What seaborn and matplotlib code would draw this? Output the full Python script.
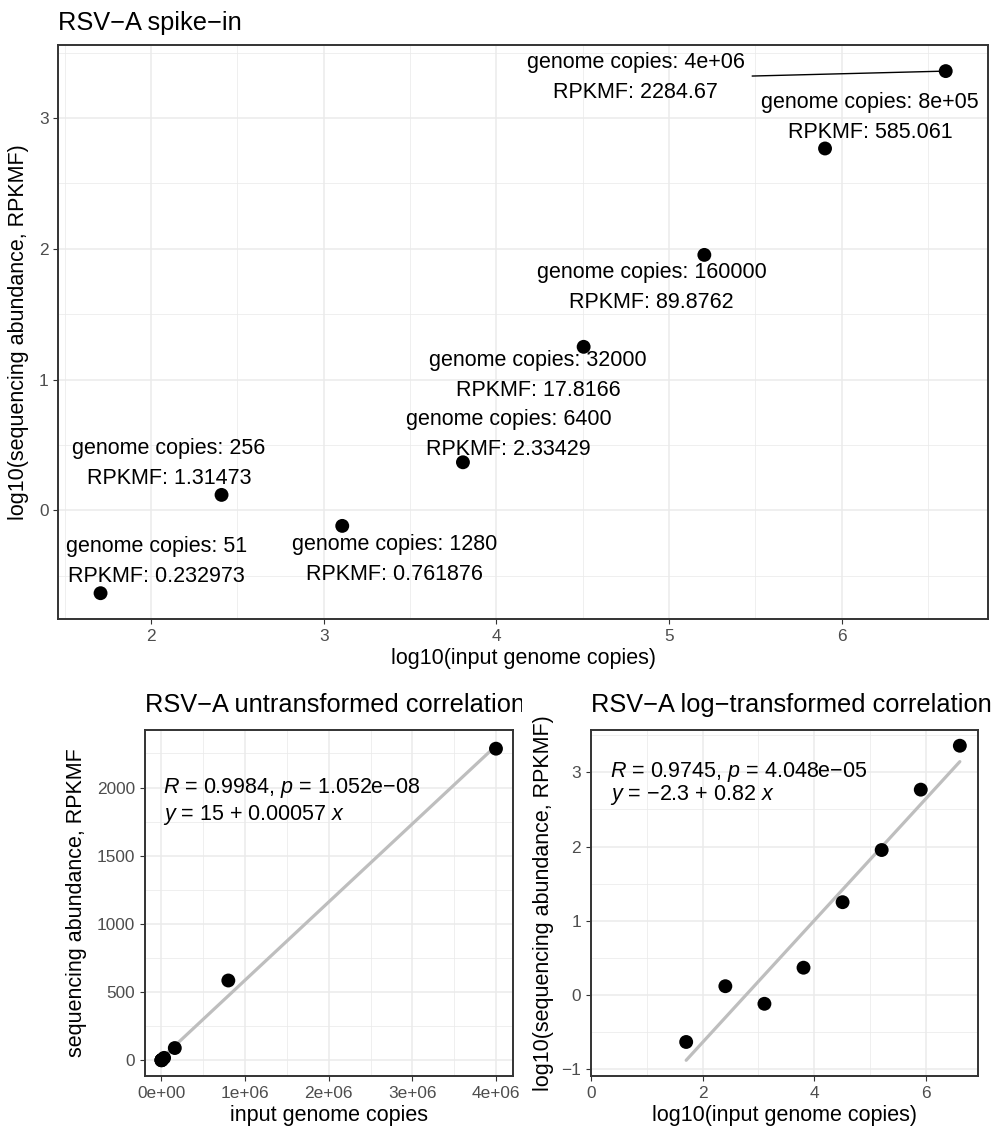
import numpy as np
import pandas as pd
import matplotlib
matplotlib.use("Agg")
import matplotlib.pyplot as plt
import seaborn as sns
from matplotlib.ticker import FixedLocator, FuncFormatter
from matplotlib.transforms import Bbox, TransformedBbox, blended_transform_factory

# data
genome_copies = [51, 256, 1280, 6400, 32000, 160000, 800000, 4000000]
rpkmf = [0.232973, 1.31473, 0.761876, 2.33429, 17.8166, 89.8762, 585.061, 2284.67]
copy_labels = ["51", "256", "1280", "6400", "32000", "160000", "8e+05", "4e+06"]
rpkmf_labels = ["0.232973", "1.31473", "0.761876", "2.33429", "17.8166",
                "89.8762", "585.061", "2284.67"]

# repel offsets of each label block (log10 units)
label_dx = [0.324, -0.304, 0.303, 0.263, -0.265, -0.306, 0.262, -1.795]
label_dy = [0.242, 0.238, -0.254, 0.212, -0.219, -0.248, 0.237, -0.047]

lin_stats = ["$R$ = 0.9984, $p$ = 1.052e\u221208", "$y$ = 15 + 0.00057 $x$"]
log_stats = ["$R$ = 0.9745, $p$ = 4.048e\u221205", "$y$ = \u22122.3 + 0.82 $x$"]

df = pd.DataFrame({"copies": genome_copies, "rpkmf": rpkmf})
df["log_copies"] = np.log10(df["copies"])
df["log_rpkmf"] = np.log10(df["rpkmf"])

sns.set_theme(style="whitegrid")
plt.rcParams["font.family"] = ["Liberation Sans", "DejaVu Sans"]
plt.rcParams["mathtext.fontset"] = "custom"
plt.rcParams["mathtext.rm"] = "Liberation Sans"
plt.rcParams["mathtext.it"] = "Liberation Sans:italic"
plt.rcParams["text.color"] = "black"
plt.rcParams["axes.labelcolor"] = "black"

BASE = 15.5
TICK = 12.4
TITLE = 18.3
GRID = "#EBEBEB"
BORDER = "#333333"


def style_axes(ax, xmaj, xmin, ymaj, ymin):
    ax.set_facecolor("white")
    for s in ax.spines.values():
        s.set_color(BORDER)
        s.set_linewidth(1.4)
        s.set_visible(True)
    ax.xaxis.set_major_locator(FixedLocator(xmaj))
    ax.xaxis.set_minor_locator(FixedLocator(xmin))
    ax.yaxis.set_major_locator(FixedLocator(ymaj))
    ax.yaxis.set_minor_locator(FixedLocator(ymin))
    ax.grid(which="major", color=GRID, linewidth=1.1)
    ax.grid(which="minor", color=GRID, linewidth=0.55)
    ax.set_axisbelow(True)
    ax.tick_params(which="major", length=3.9, width=0.8, color=BORDER,
                   labelcolor="#4D4D4D", labelsize=TICK, pad=3.0,
                   bottom=True, left=True)
    ax.tick_params(which="minor", length=0, bottom=False, left=False)


fig = plt.figure(figsize=(9.96, 11.3), dpi=100)

# ---- top: labelled spike-in scatter ----
ax1 = fig.add_axes([0.05853, 0.45195, 0.93343, 0.50823])
sns.scatterplot(data=df, x="log_copies", y="log_rpkmf", ax=ax1, s=100,
                color="black", edgecolor="none", linewidth=0, zorder=3)
xr = df["log_copies"].max() - df["log_copies"].min()
yr = df["log_rpkmf"].max() - df["log_rpkmf"].min()
ax1.set_xlim(df["log_copies"].min() - 0.05 * xr, df["log_copies"].max() + 0.05 * xr)
ax1.set_ylim(df["log_rpkmf"].min() - 0.05 * yr, df["log_rpkmf"].max() + 0.05 * yr)
style_axes(ax1, [2, 3, 4, 5, 6], [1.5, 2.5, 3.5, 4.5, 5.5, 6.5],
           [0, 1, 2, 3], [-0.5, 0.5, 1.5, 2.5, 3.5])

for i, row in df.iterrows():
    txt = f"genome copies: {copy_labels[i]}\nRPKMF: {rpkmf_labels[i]}"
    px, py = row["log_copies"], row["log_rpkmf"]
    arrow = None
    if abs(label_dx[i]) > 1:
        # long repel distance -> ggrepel draws a segment
        arrow = dict(arrowstyle="-", color="black", lw=1.0,
                     relpos=(1.0, 0.52), shrinkA=3, shrinkB=0)
    ax1.annotate(txt, xy=(px, py), xytext=(px + label_dx[i], py + label_dy[i]),
                 ha="center", va="center", multialignment="center",
                 fontsize=BASE, linespacing=1.55, color="black",
                 arrowprops=arrow, zorder=2)

ax1.set_xlabel("log10(input genome copies)", fontsize=BASE, labelpad=3)
ax1.set_ylabel("log10(sequencing abundance, RPKMF)", fontsize=BASE, labelpad=7)
ax1.set_title("RSV\u2212A spike\u2212in", loc="left", fontsize=TITLE, pad=11)

# ---- bottom left: untransformed correlation ----
ax2 = fig.add_axes([0.14528, 0.04779, 0.36948, 0.30619])
sns.regplot(data=df, x="copies", y="rpkmf", ax=ax2, scatter=False, ci=None,
            color="#BEBEBE", line_kws={"lw": 2.3})
sns.scatterplot(data=df, x="copies", y="rpkmf", ax=ax2, s=100,
                color="black", edgecolor="none", linewidth=0, zorder=3)
slope, icpt = np.polyfit(df["copies"], df["rpkmf"], 1)
fit_ends = icpt + slope * np.array([df["copies"].min(), df["copies"].max()])
lo = min(df["rpkmf"].min(), fit_ends.min())
hi = max(df["rpkmf"].max(), fit_ends.max())
xr = df["copies"].max() - df["copies"].min()
ax2.set_xlim(df["copies"].min() - 0.05 * xr, df["copies"].max() + 0.05 * xr)
ax2.set_ylim(lo - 0.05 * (hi - lo), hi + 0.05 * (hi - lo))
style_axes(ax2, [0, 1e6, 2e6, 3e6, 4e6], [0.5e6, 1.5e6, 2.5e6, 3.5e6],
           [0, 500, 1000, 1500, 2000], [250, 750, 1250, 1750, 2250])
ax2.xaxis.set_major_formatter(FuncFormatter(lambda v, p: f"{v:.0e}"))
ax2.set_xlabel("input genome copies", fontsize=BASE, labelpad=3)
ax2.set_ylabel("sequencing abundance, RPKMF", fontsize=BASE, labelpad=7)
t2 = ax2.set_title("RSV\u2212A untransformed correlation", loc="left",
                   fontsize=TITLE, pad=13)
# title runs past its cell in the reference and is cut there
t2.set_clip_box(TransformedBbox(Bbox([[0, 0], [0.524, 1]]), fig.transFigure))
t2.set_clip_on(True)
blend2 = blended_transform_factory(ax2.transAxes, ax2.transData)
ax2.text(0.05, 2000, lin_stats[0], transform=blend2, ha="left", va="center",
         fontsize=BASE)
ax2.text(0.05, 1800, lin_stats[1], transform=blend2, ha="left", va="center",
         fontsize=BASE)

# ---- bottom right: log-transformed correlation ----
ax3 = fig.add_axes([0.59307, 0.04779, 0.38916, 0.30619])
sns.regplot(data=df, x="log_copies", y="log_rpkmf", ax=ax3, scatter=False,
            ci=None, color="#BEBEBE", line_kws={"lw": 2.3})
sns.scatterplot(data=df, x="log_copies", y="log_rpkmf", ax=ax3, s=100,
                color="black", edgecolor="none", linewidth=0, zorder=3)
slope, icpt = np.polyfit(df["log_copies"], df["log_rpkmf"], 1)
fit_ends = icpt + slope * np.array([df["log_copies"].min(), df["log_copies"].max()])
lo = min(df["log_rpkmf"].min(), fit_ends.min())
hi = max(df["log_rpkmf"].max(), fit_ends.max())
ax3.set_xlim(0, df["log_copies"].max() * 1.05)
ax3.set_ylim(lo - 0.05 * (hi - lo), hi + 0.05 * (hi - lo))
style_axes(ax3, [0, 2, 4, 6], [1, 3, 5], [-1, 0, 1, 2, 3],
           [-0.5, 0.5, 1.5, 2.5, 3.5])
ax3.set_xlabel("log10(input genome copies)", fontsize=BASE, labelpad=3)
ax3.set_ylabel("log10(sequencing abundance, RPKMF)", fontsize=BASE, labelpad=5)
ax3.set_title("RSV\u2212A log\u2212transformed correlation", loc="left",
              fontsize=TITLE, pad=13)
blend3 = blended_transform_factory(ax3.transAxes, ax3.transData)
ax3.text(0.05, 3.0, log_stats[0], transform=blend3, ha="left", va="center",
         fontsize=BASE)
ax3.text(0.05, 2.70, log_stats[1], transform=blend3, ha="left", va="center",
         fontsize=BASE)

fig.savefig("out.png", dpi=100)
